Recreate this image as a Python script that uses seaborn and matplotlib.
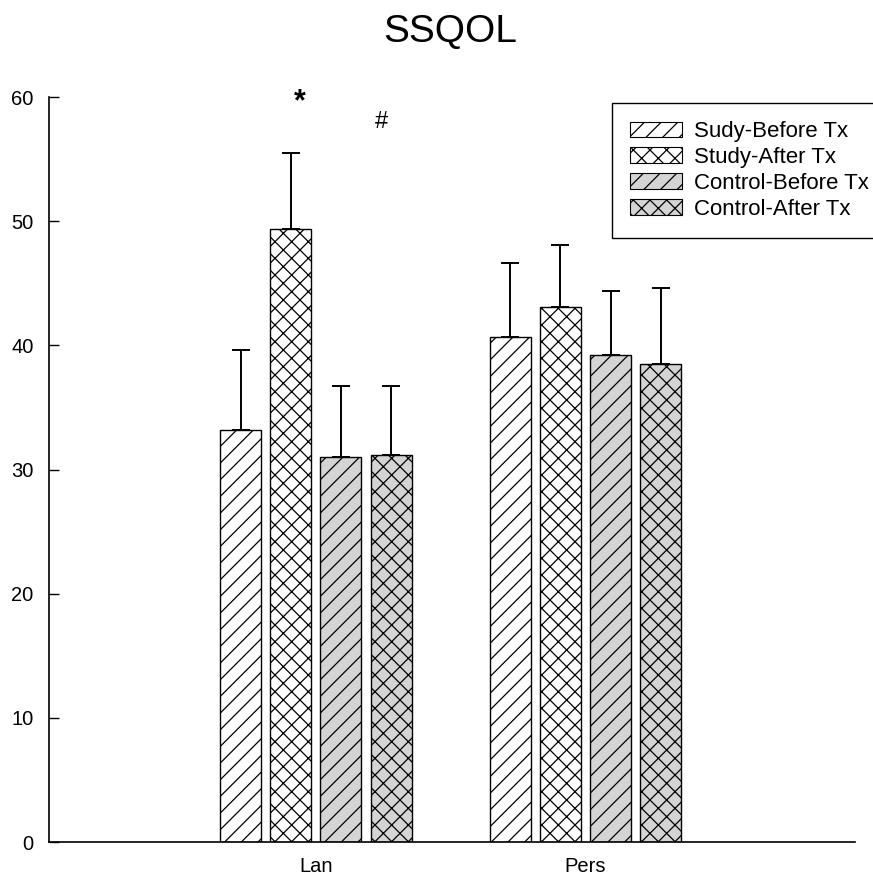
import numpy as np
import pandas as pd
import matplotlib
matplotlib.use("Agg")
import matplotlib.pyplot as plt
import seaborn as sns
from matplotlib.patches import Patch

# data
domains = ["Lan", "Pers"]
groups = ["Sudy-Before Tx", "Study-After Tx", "Control-Before Tx", "Control-After Tx"]
lan_mean = [33.2, 49.4, 31.0, 31.2]
lan_err = [6.4, 6.1, 5.7, 5.5]
pers_mean = [40.7, 43.1, 39.2, 38.5]
pers_err = [5.9, 5.0, 5.2, 6.1]
yticks = [0, 10, 20, 30, 40, 50, 60]

fills = ["white", "white", "#d4d4d4", "#d4d4d4"]
hatches = ["//", "xx", "//", "xx"]

df = pd.DataFrame({
    "domain": np.repeat(domains, len(groups)),
    "group": groups * len(domains),
    "mean": lan_mean + pers_mean,
    "err": lan_err + pers_err,
})

sns.set_style("ticks")
plt.rcParams["font.family"] = ["Liberation Sans", "DejaVu Sans"]
plt.rcParams["hatch.linewidth"] = 0.9
plt.rcParams["text.color"] = "black"
plt.rcParams["xtick.color"] = "black"
plt.rcParams["ytick.color"] = "black"

fig = plt.figure(figsize=(8.73, 8.75), dpi=100)
ax = fig.add_axes([0.0561, 0.0377, 0.9233, 0.8514])

sns.barplot(data=df, x="domain", y="mean", hue="group", order=domains,
            hue_order=groups, palette=dict(zip(groups, fills)),
            width=0.744, gap=0.18, errorbar=None, edgecolor="black",
            linewidth=1.0, legend=False, ax=ax)

# hatches and upper-only error bars
for cont, h, g in zip(ax.containers, hatches, groups):
    xs, ys = [], []
    for p in cont.patches:
        p.set_hatch(h)
        xs.append(p.get_x() + p.get_width() / 2)
        ys.append(p.get_height())
    e = df.loc[df["group"] == g, "err"].values
    ax.errorbar(xs, ys, yerr=[np.zeros_like(e), e], fmt="none",
                ecolor="black", elinewidth=1.4, capsize=6.5, capthick=1.4)

ax.text(-0.06, 59.6, "*", ha="center", va="center", fontsize=22, fontweight="bold")
ax.text(0.245, 58.0, "#", ha="center", va="center", fontsize=17)

ax.set_xlim(-0.99, 2.0)
ax.set_ylim(0, 60)
ax.set_yticks(yticks)
ax.set_xlabel("")
ax.set_ylabel("")
ax.tick_params(axis="y", direction="in", length=7, width=1, labelsize=14.5, pad=11)
ax.tick_params(axis="x", length=0, labelsize=14.5, pad=11)
sns.despine(ax=ax)
for s in ["left", "bottom"]:
    ax.spines[s].set_linewidth(1.2)
    ax.spines[s].set_color("black")

handles = [Patch(facecolor=f, edgecolor="black", hatch=h, linewidth=0.8)
           for f, h in zip(fills, hatches)]
leg = fig.legend(handles, groups, loc="upper left",
                 bbox_to_anchor=(612 / 873, 1 - 103 / 875),
                 fontsize=16, handlelength=2.35, handleheight=0.72, handletextpad=0.5,
                 labelspacing=0.22, borderpad=0.82, borderaxespad=0, fancybox=False,
                 framealpha=1, edgecolor="black")
leg.get_frame().set_linewidth(1.0)

fig.text(0.516, 0.963, "SSQOL", ha="center", va="center", fontsize=28)

fig.savefig("out.png", dpi=100)
